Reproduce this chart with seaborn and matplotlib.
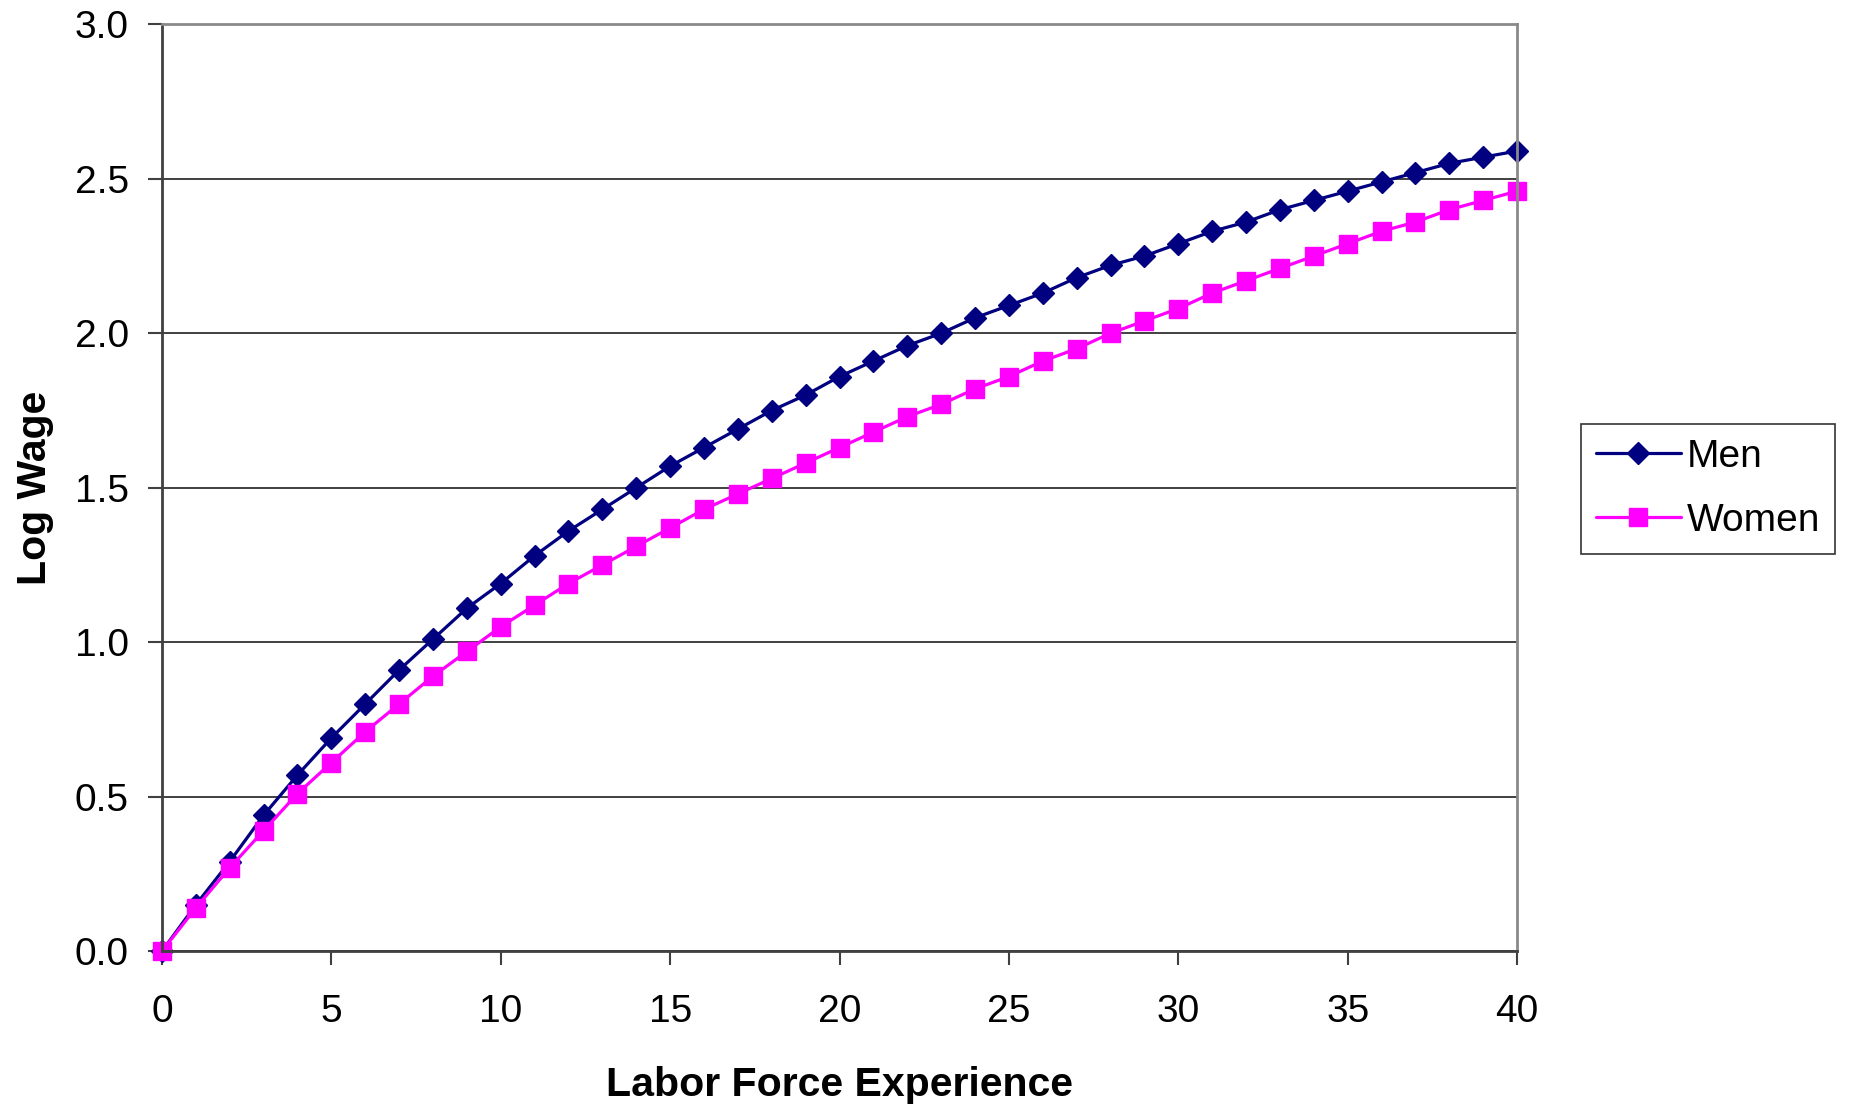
import pandas as pd
import matplotlib
matplotlib.use('Agg')
import matplotlib.pyplot as plt
import seaborn as sns

# years of labor force experience, 0..40
experience = list(range(41))

men = [0.00, 0.15, 0.29, 0.44, 0.57, 0.69, 0.80, 0.91, 1.01, 1.11,
       1.19, 1.28, 1.36, 1.43, 1.50, 1.57, 1.63, 1.69, 1.75, 1.80,
       1.86, 1.91, 1.96, 2.00, 2.05, 2.09, 2.13, 2.18, 2.22, 2.25,
       2.29, 2.33, 2.36, 2.40, 2.43, 2.46, 2.49, 2.52, 2.55, 2.57,
       2.59]

women = [0.00, 0.14, 0.27, 0.39, 0.51, 0.61, 0.71, 0.80, 0.89, 0.97,
         1.05, 1.12, 1.19, 1.25, 1.31, 1.37, 1.43, 1.48, 1.53, 1.58,
         1.63, 1.68, 1.73, 1.77, 1.82, 1.86, 1.91, 1.95, 2.00, 2.04,
         2.08, 2.13, 2.17, 2.21, 2.25, 2.29, 2.33, 2.36, 2.40, 2.43,
         2.46]

x_ticks = [0, 5, 10, 15, 20, 25, 30, 35, 40]
y_ticks = [0.0, 0.5, 1.0, 1.5, 2.0, 2.5, 3.0]

df = pd.DataFrame({
    'Experience': experience * 2,
    'LogWage': men + women,
    'Group': ['Men'] * len(men) + ['Women'] * len(women),
})

sns.set_style('white')
plt.rcParams['font.family'] = ['Liberation Sans', 'DejaVu Sans']
plt.rcParams['text.color'] = 'black'
plt.rcParams['axes.labelcolor'] = 'black'

fig = plt.figure(figsize=(18.51, 11.06), dpi=100)
ax = fig.add_axes([0.0875, 0.140, 0.7321, 0.838])

palette = {'Men': '#000080', 'Women': '#FF00FF'}
sns.lineplot(data=df, x='Experience', y='LogWage', hue='Group', style='Group',
             palette=palette, markers={'Men': 'D', 'Women': 's'}, dashes=False,
             markersize=11.5, linewidth=2.3, ax=ax)
# seaborn gives markers white edges; excel ones are solid
for line in ax.get_lines():
    line.set_markeredgecolor(line.get_color())
    line.set_markeredgewidth(1.0)
    line.set_clip_on(False)
    if line.get_marker() == 's':
        line.set_markersize(13)

ax.set_xlim(0, 40)
ax.set_ylim(0, 3.0)
ax.set_xticks(x_ticks)
ax.set_yticks(y_ticks)
ax.set_yticklabels([f'{v:.1f}' for v in y_ticks])
ax.yaxis.grid(True, color='#202020', linewidth=1.2)
ax.xaxis.grid(False)
ax.set_axisbelow(True)

for side in ['left', 'bottom']:
    ax.spines[side].set_color('#404040')
    ax.spines[side].set_linewidth(2)
for side in ['top', 'right']:
    ax.spines[side].set_color('#8a8a8a')
    ax.spines[side].set_linewidth(2)

ax.tick_params(axis='both', which='major', direction='out', length=10,
               width=1.5, color='#404040', labelcolor='black', labelsize=28,
               left=True, bottom=True)
ax.tick_params(axis='x', pad=20.5)
ax.tick_params(axis='y', pad=14)

ax.set_xlabel('Labor Force Experience', fontsize=29.5, fontweight='bold', labelpad=26)
ax.set_ylabel('Log Wage', fontsize=29.5, fontweight='bold', labelpad=14.5)

handles, labels = ax.get_legend_handles_labels()
leg = fig.legend(handles, labels, loc='upper left',
                 bbox_to_anchor=(0.854, 0.6166), fontsize=28,
                 frameon=True, fancybox=False, edgecolor='black',
                 handlelength=2.2, handletextpad=0.15, labelspacing=0.72,
                 borderpad=0.38, borderaxespad=0)
leg.get_frame().set_linewidth(1.2)
for h in leg.get_lines():
    h.set_markeredgecolor(h.get_color())
ax.get_legend().remove()

fig.savefig('out.png', dpi=100, facecolor='white')
